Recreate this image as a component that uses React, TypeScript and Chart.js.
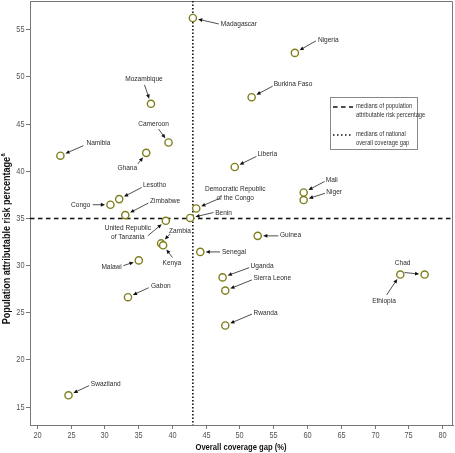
import React, { useEffect, useRef } from "react";
import { Chart, registerables } from "chart.js";

Chart.register(...registerables);

const countries = [
  "Madagascar", "Nigeria", "Burkina Faso", "Mozambique", "Cameroon", "Namibia", "Ghana",
  "Lesotho", "Congo", "Zimbabwe", "United Republic of Tanzania", "Zambia", "Kenya", "Malawi",
  "Benin", "Democratic Republic of the Congo", "Senegal", "Guinea", "Liberia", "Mali", "Niger",
  "Uganda", "Sierra Leone", "Rwanda", "Chad", "Ethiopia", "Gabon", "Swaziland",
];
const coverageGap = [
  43.1, 58.2, 51.8, 36.9, 39.5, 23.5, 36.2,
  32.2, 30.9, 33.1, 39.1, 38.4, 38.7, 35.1,
  42.7, 43.6, 44.2, 52.7, 49.3, 59.5, 59.5,
  47.5, 47.9, 47.9, 77.4, 73.8, 33.5, 24.7,
];
const riskPct = [
  56.2, 52.5, 47.8, 47.1, 43.0, 41.6, 41.9,
  37.0, 36.4, 35.3, 34.7, 32.3, 32.1, 30.5,
  35.0, 36.0, 31.4, 33.1, 40.4, 37.7, 36.9,
  28.7, 27.3, 23.6, 29.0, 29.0, 26.6, 16.2,
];
const medianRisk = 35.0;
const medianGap = 43.1;
const xTicks = [20, 25, 30, 35, 40, 45, 50, 55, 60, 65, 70, 75, 80];
const yTicks = [15, 20, 25, 30, 35, 40, 45, 50, 55];
const xTitle = "Overall coverage gap (%)";
const yTitle = "Population attributable risk percentage";
const legendItems = [
  ["medians of population", "attributable risk percentage"],
  ["medians of national", "overall coverage gap"],
];

// label placement (pixel offsets relative to each marker) — layout only
type Lay = { dx: number; dy: number; align: CanvasTextAlign; ax: number; ay: number; lines?: string[] };
const labelLayout: Record<string, Lay> = {
  Madagascar: { dx: 28, dy: 6, align: "left", ax: 26, ay: 6 },
  Nigeria: { dx: 23, dy: -13, align: "left", ax: 21, ay: -12 },
  "Burkina Faso": { dx: 22, dy: -13, align: "left", ax: 21, ay: -11 },
  Mozambique: { dx: -7, dy: -25, align: "center", ax: -6.5, ay: -19 },
  Cameroon: { dx: -15, dy: -19, align: "center", ax: -10, ay: -13.5 },
  Namibia: { dx: 26, dy: -12.5, align: "left", ax: 23, ay: -10 },
  Ghana: { dx: -19, dy: 14.6, align: "center", ax: -8.3, ay: 11 },
  Lesotho: { dx: 23.7, dy: -14, align: "left", ax: 22.5, ay: -11.6 },
  Congo: { dx: -20, dy: 0, align: "right", ax: -17.7, ay: 0 },
  Zimbabwe: { dx: 24.7, dy: -14.3, align: "left", ax: 23, ay: -12 },
  "United Republic of Tanzania": { dx: -38, dy: 7.3, align: "center", ax: -18, ay: 15, lines: ["United Republic", "of Tanzania"] },
  Zambia: { dx: 8, dy: -12.7, align: "left", ax: 9, ay: -9.4 },
  Kenya: { dx: 8.7, dy: 17.7, align: "center", ax: 9.4, ay: 12.3 },
  Malawi: { dx: -17, dy: 6.6, align: "right", ax: -15.4, ay: 5.3 },
  Benin: { dx: 25, dy: -5.4, align: "left", ax: 23.3, ay: -5.4 },
  "Democratic Republic of the Congo": { dx: 39, dy: -19.3, align: "center", ax: 23, ay: -10, lines: ["Democratic Republic", "of the Congo"] },
  Senegal: { dx: 21.7, dy: -0.6, align: "left", ax: 19.7, ay: 0 },
  Guinea: { dx: 22.3, dy: -0.7, align: "left", ax: 20.6, ay: 0 },
  Liberia: { dx: 22.7, dy: -13, align: "left", ax: 21.7, ay: -10.6 },
  Mali: { dx: 22, dy: -12.7, align: "left", ax: 21, ay: -11 },
  Niger: { dx: 22.7, dy: -8.3, align: "left", ax: 21.3, ay: -6.7 },
  Uganda: { dx: 28, dy: -11.7, align: "left", ax: 26.6, ay: -9.7 },
  "Sierra Leone": { dx: 28.3, dy: -13, align: "left", ax: 26.7, ay: -10.7 },
  Rwanda: { dx: 28.3, dy: -12.4, align: "left", ax: 26.7, ay: -11.4 },
  Chad: { dx: -22, dy: -11.4, align: "center", ax: -20, ay: -2 },
  Ethiopia: { dx: -16.3, dy: 26.3, align: "center", ax: -13.6, ay: 20.3 },
  Gabon: { dx: 23, dy: -11.7, align: "left", ax: 20.6, ay: -9.4 },
  Swaziland: { dx: 22.3, dy: -11.7, align: "left", ax: 20.6, ay: -9.7 },
};

const FONT = '"Liberation Sans", Arial, sans-serif';
const SQUEEZE = 0.82;
const POINT_R = 3.6;

function narrowText(ctx: CanvasRenderingContext2D, text: string, x: number, y: number, align: CanvasTextAlign) {
  ctx.save();
  ctx.translate(x, y);
  ctx.scale(SQUEEZE, 1);
  ctx.textAlign = align;
  ctx.fillText(text, 0, 0);
  ctx.restore();
}

const decorPlugin = {
  id: "decor",
  beforeDatasetsDraw(chart: any) {
    const { ctx, chartArea: a, scales } = chart;
    const xs = scales.x, ys = scales.y;
    ctx.save();
    // frame top/right
    ctx.strokeStyle = "#777";
    ctx.lineWidth = 1;
    ctx.beginPath();
    ctx.moveTo(a.left, a.top + 0.5);
    ctx.lineTo(a.right - 0.5, a.top + 0.5);
    ctx.lineTo(a.right - 0.5, a.bottom);
    ctx.stroke();
    // tick marks and tick labels
    ctx.fillStyle = "#555";
    ctx.font = `9px ${FONT}`;
    ctx.textBaseline = "middle";
    ctx.beginPath();
    xTicks.forEach((v) => {
      const px = Math.round(xs.getPixelForValue(v)) + 0.5;
      ctx.moveTo(px, a.bottom);
      ctx.lineTo(px, a.bottom + 4);
      narrowText(ctx, String(v), px, a.bottom + 11, "center");
    });
    yTicks.forEach((v) => {
      const py = Math.round(ys.getPixelForValue(v)) + 0.5;
      ctx.moveTo(a.left, py);
      ctx.lineTo(a.left - 4, py);
      narrowText(ctx, String(v), a.left - 5.5, py, "right");
    });
    ctx.stroke();
    // median lines
    ctx.strokeStyle = "#111";
    ctx.lineWidth = 1.3;
    ctx.setLineDash([4.5, 3.5]);
    const yy = Math.round(ys.getPixelForValue(medianRisk)) + 0.5;
    ctx.beginPath();
    ctx.moveTo(a.left, yy);
    ctx.lineTo(a.right, yy);
    ctx.stroke();
    ctx.setLineDash([1.5, 2]);
    ctx.lineWidth = 1.6;
    const xx = xs.getPixelForValue(medianGap);
    ctx.beginPath();
    ctx.moveTo(xx, a.top);
    ctx.lineTo(xx, a.bottom);
    ctx.stroke();
    ctx.setLineDash([]);
    // legend box
    const lx = 330.5, ly = 97.5, lw = 87, lh = 52;
    ctx.fillStyle = "#fff";
    ctx.fillRect(lx, ly, lw, lh);
    ctx.strokeStyle = "#888";
    ctx.lineWidth = 1;
    ctx.strokeRect(lx, ly, lw, lh);
    ctx.strokeStyle = "#111";
    ctx.lineWidth = 1.3;
    ctx.setLineDash([4.5, 3.5]);
    ctx.beginPath();
    ctx.moveTo(333, 107);
    ctx.lineTo(353, 107);
    ctx.stroke();
    ctx.setLineDash([1.5, 2.5]);
    ctx.lineWidth = 1.6;
    ctx.beginPath();
    ctx.moveTo(333, 135);
    ctx.lineTo(353, 135);
    ctx.stroke();
    ctx.setLineDash([]);
    ctx.fillStyle = "#333";
    ctx.font = `7px ${FONT}`;
    ctx.textBaseline = "middle";
    narrowText(ctx, legendItems[0][0], 356, 106.5, "left");
    narrowText(ctx, legendItems[0][1], 356, 115.5, "left");
    narrowText(ctx, legendItems[1][0], 356, 134.5, "left");
    narrowText(ctx, legendItems[1][1], 356, 143.5, "left");
    ctx.restore();
  },
  afterDatasetsDraw(chart: any) {
    const { ctx, scales } = chart;
    const xs = scales.x, ys = scales.y;
    ctx.save();
    ctx.font = `8px ${FONT}`;
    ctx.textBaseline = "middle";
    countries.forEach((name, i) => {
      const lay = labelLayout[name];
      if (!lay) return;
      const px = xs.getPixelForValue(coverageGap[i]);
      const py = ys.getPixelForValue(riskPct[i]);
      ctx.fillStyle = "#2a2a2a";
      const lines = lay.lines || [name];
      lines.forEach((t, k) => narrowText(ctx, t, px + lay.dx, py + lay.dy + k * 8.6, lay.align));
      // arrow
      const sx = px + lay.ax, sy = py + lay.ay;
      const vx = sx - px, vy = sy - py;
      const len = Math.hypot(vx, vy) || 1;
      const ux = vx / len, uy = vy / len;
      const ex = px + ux * (POINT_R + 1.8), ey = py + uy * (POINT_R + 1.8);
      ctx.strokeStyle = "#222";
      ctx.lineWidth = 0.8;
      ctx.beginPath();
      ctx.moveTo(sx, sy);
      ctx.lineTo(ex + ux * 3, ey + uy * 3);
      ctx.stroke();
      const hl = 4.2, hw = 1.9;
      ctx.fillStyle = "#111";
      ctx.beginPath();
      ctx.moveTo(ex, ey);
      ctx.lineTo(ex + ux * hl - uy * hw, ey + uy * hl + ux * hw);
      ctx.lineTo(ex + ux * hl + uy * hw, ey + uy * hl - ux * hw);
      ctx.closePath();
      ctx.fill();
    });
    ctx.restore();
  },
  afterDraw(chart: any) {
    const { ctx } = chart;
    ctx.save();
    ctx.fillStyle = "#111";
    ctx.textBaseline = "middle";
    ctx.font = `bold 9.3px ${FONT}`;
    narrowText(ctx, xTitle, 241, 447.5, "center");
    // y title rotated
    ctx.translate(6.5, 239);
    ctx.rotate(-Math.PI / 2);
    ctx.scale(SQUEEZE, 1);
    ctx.font = `bold 11px ${FONT}`;
    const w = ctx.measureText(yTitle).width;
    ctx.font = `bold 7px ${FONT}`;
    const ws = ctx.measureText("a").width;
    const total = w + ws;
    ctx.font = `bold 11px ${FONT}`;
    ctx.textAlign = "left";
    ctx.fillText(yTitle, -total / 2, 0);
    ctx.font = `bold 7px ${FONT}`;
    ctx.fillText("a", -total / 2 + w + 0.5, -3.5);
    ctx.restore();
  },
};

export default function App() {
  const ref = useRef<HTMLCanvasElement | null>(null);
  useEffect(() => {
    if (!ref.current) return;
    const chart = new Chart(ref.current, {
      type: "scatter",
      data: {
        datasets: [
          {
            data: countries.map((_, i) => ({ x: coverageGap[i], y: riskPct[i] })),
            pointRadius: POINT_R,
            pointBorderWidth: 1.4,
            borderColor: "#7f7f1c",
            backgroundColor: "#ffffff",
            pointHoverRadius: POINT_R,
          },
        ],
      },
      options: {
        responsive: false,
        animation: false,
        devicePixelRatio: 1,
        layout: { autoPadding: false, padding: { top: 1, right: 2, left: 0, bottom: 0 } },
        plugins: { legend: { display: false }, tooltip: { enabled: false } },
        scales: {
          x: {
            type: "linear",
            min: 19,
            max: 81.6,
            afterFit: (s: any) => {
              s.height = 28;
              s.paddingLeft = 0; s.paddingRight = 0; s.paddingTop = 0; s.paddingBottom = 0;
            },
            grid: { display: false },
            border: { display: true, color: "#777", width: 1 },
            ticks: { display: false },
          },
          y: {
            type: "linear",
            min: 13.05,
            max: 58,
            afterFit: (s: any) => {
              s.width = 30;
              s.paddingLeft = 0; s.paddingRight = 0; s.paddingTop = 0; s.paddingBottom = 0;
            },
            grid: { display: false },
            border: { display: true, color: "#777", width: 1 },
            ticks: { display: false },
          },
        },
      },
      plugins: [decorPlugin],
    });
    return () => chart.destroy();
  }, []);
  return (
    <div style={{ position: "absolute", left: 0, top: 0, width: 455, height: 453, background: "#fff" }}>
      <canvas ref={ref} width={455} height={453} style={{ display: "block" }} />
    </div>
  );
}
